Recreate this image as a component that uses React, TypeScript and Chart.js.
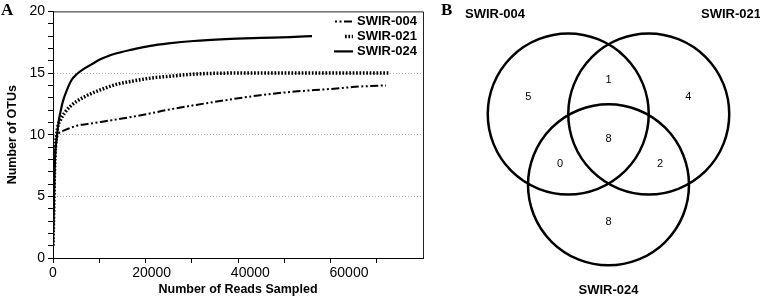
import React, { useEffect, useRef } from "react";
import { Chart, registerables } from "chart.js";

Chart.register(...registerables);

// ---------- Panel A data (rarefaction curves) ----------
const seriesNames = ["SWIR-004", "SWIR-021", "SWIR-024"];

const reads004 = [0, 100, 200, 300, 400, 600, 800, 1000, 2000, 3500, 5000, 7500, 10000, 13000, 16000, 20000, 23000, 28000, 35000, 42000, 49000, 56000, 62000, 67500];
const otus004 = [1, 3, 5, 6.8, 8, 9.2, 9.7, 10, 10.3, 10.55, 10.75, 10.9, 11.05, 11.25, 11.45, 11.75, 12.0, 12.35, 12.8, 13.2, 13.5, 13.7, 13.9, 14];

const reads021 = [0, 100, 200, 300, 500, 800, 1000, 1500, 2400, 3500, 4800, 6500, 8100, 10000, 13000, 15500, 18300, 21000, 24000, 28000, 32000, 38000, 50000, 68000];
const otus021 = [1, 3, 5, 7, 9, 10.2, 10.7, 11.2, 11.8, 12.3, 12.7, 13.1, 13.4, 13.7, 14.1, 14.3, 14.5, 14.65, 14.75, 14.9, 14.97, 15, 15, 15];

const reads024 = [0, 100, 200, 300, 500, 800, 1200, 1600, 2000, 2800, 3700, 4800, 6100, 7800, 9500, 12900, 16000, 19700, 23400, 28500, 35000, 42000, 48000, 52500];
const otus024 = [1, 3, 5, 7, 8.8, 9.9, 11.2, 12, 12.7, 13.6, 14.4, 14.9, 15.3, 15.7, 16.1, 16.6, 16.9, 17.2, 17.4, 17.6, 17.75, 17.85, 17.92, 18];

const xTickLabels = [0, 20000, 40000, 60000];
const yTickLabels = [0, 5, 10, 15, 20];
const xGridValues = [20000, 40000, 60000];
const yGridValues = [5, 10, 15];

// ---------- Panel B data (Venn diagram) ----------
const vennSets = ["SWIR-004", "SWIR-021", "SWIR-024"];
const vennCenterX = [-0.5, 0.5, 0];
const vennCenterY = [0, 0, -0.88];
const vennRadius = [1, 1, 1];
const setLabelX = [-1.41, 1.522, 0];
const setLabelY = [1.242, 1.242, -2.186];
const regionCounts = [5, 1, 4, 8, 0, 2, 8];
const regionX = [-0.996, 0, 0.991, 0, -0.602, 0.64, 0];
const regionY = [0.215, 0.422, 0.215, -0.314, -0.621, -0.621, -1.338];

const SANS = "'Liberation Sans', Arial, Helvetica, sans-serif";
const SERIF = "'Liberation Serif', 'Times New Roman', serif";

const dashes = [[8, 2.5, 2, 2.5, 2, 2.5], [1.7, 1.7], []];
const widths = [2, 3.5, 2.2];

const framePlugin = {
  id: "frame",
  afterDatasetsDraw(chart: any) {
    const { ctx, chartArea: a } = chart;
    ctx.save();
    ctx.strokeStyle = "#222";
    ctx.lineWidth = 1;
    ctx.beginPath();
    ctx.moveTo(a.left, a.top + 0.5);
    ctx.lineTo(a.right + 0.5, a.top + 0.5);
    ctx.lineTo(a.right + 0.5, a.bottom);
    ctx.stroke();
    ctx.restore();
  },
};

// x tick labels drawn through the x scale (0, 20000, 40000, 60000)
const xLabelPlugin = {
  id: "xLabels",
  afterDraw(chart: any) {
    const { ctx, chartArea: a, scales } = chart;
    ctx.save();
    ctx.fillStyle = "#000";
    ctx.font = `14px ${SANS}`;
    ctx.textAlign = "center";
    ctx.textBaseline = "top";
    xTickLabels.forEach((v) => {
      ctx.fillText(String(v), scales.x.getPixelForValue(v), a.bottom + 8);
    });
    ctx.restore();
  },
};

const legendPlugin = {
  id: "insideLegend",
  afterDraw(chart: any) {
    const { ctx, chartArea: a } = chart;
    const sampleLen = [18, 8, 19];
    const sampleOffset = [10.5, 0, 0];
    ctx.save();
    chart.data.datasets.forEach((ds: any, i: number) => {
      const y = a.top + 10 + i * 15;
      const xEnd = a.right - 70;
      ctx.strokeStyle = "#000";
      ctx.lineWidth = ds.borderWidth;
      ctx.setLineDash(ds.borderDash || []);
      ctx.lineDashOffset = sampleOffset[i];
      ctx.beginPath();
      ctx.moveTo(xEnd - sampleLen[i], y);
      ctx.lineTo(xEnd, y);
      ctx.stroke();
      ctx.setLineDash([]);
      ctx.fillStyle = "#000";
      ctx.font = `bold 13px ${SANS}`;
      ctx.textAlign = "left";
      ctx.textBaseline = "middle";
      ctx.fillText(ds.label, a.right - 66, y + 0.5);
    });
    ctx.font = `bold 17px ${SERIF}`;
    ctx.textBaseline = "alphabetic";
    ctx.fillText("A", 1, 15);
    ctx.restore();
  },
};

const vennLabelPlugin = {
  id: "vennLabels",
  afterDatasetsDraw(chart: any) {
    const { ctx, scales } = chart;
    const sx = scales.x;
    const sy = scales.y;
    ctx.save();
    ctx.fillStyle = "#000";
    ctx.textAlign = "center";
    ctx.textBaseline = "middle";
    ctx.font = `11px ${SANS}`;
    regionCounts.forEach((c, i) => {
      ctx.fillText(String(c), sx.getPixelForValue(regionX[i]), sy.getPixelForValue(regionY[i]));
    });
    ctx.font = `bold 13px ${SANS}`;
    vennSets.forEach((s, i) => {
      ctx.fillText(s, sx.getPixelForValue(setLabelX[i]), sy.getPixelForValue(setLabelY[i]));
    });
    ctx.textAlign = "left";
    ctx.textBaseline = "alphabetic";
    ctx.font = `bold 17px ${SERIF}`;
    ctx.fillText("B", 11, 15);
    ctx.restore();
  },
};

function toPoints(xs: number[], ys: number[]) {
  return xs.map((x, i) => ({ x, y: ys[i] }));
}

export default function App() {
  const refA = useRef<HTMLCanvasElement>(null);
  const refB = useRef<HTMLCanvasElement>(null);

  useEffect(() => {
    const pairs = [
      [reads004, otus004],
      [reads021, otus021],
      [reads024, otus024],
    ];
    const chartA = new Chart(refA.current as HTMLCanvasElement, {
      type: "line",
      data: {
        datasets: pairs.map((p, i) => ({
          label: seriesNames[i],
          data: toPoints(p[0], p[1]),
          borderColor: "#000",
          borderWidth: widths[i],
          borderDash: dashes[i],
          pointRadius: 0,
          fill: false,
          cubicInterpolationMode: "monotone",
        })),
      },
      options: {
        animation: false,
        responsive: false,
        maintainAspectRatio: false,
        events: [],
        layout: { padding: { left: 0, top: 10, right: 9, bottom: 0 } },
        plugins: { legend: { display: false }, tooltip: { enabled: false } },
        scales: {
          x: {
            type: "linear",
            min: 0,
            max: 75000,
            ticks: {
              stepSize: 10000,
              autoSkip: false,
              maxRotation: 0,
              padding: 3,
              color: "rgba(0,0,0,0)",
              font: { family: SANS, size: 14 },
              callback: () => "",
            },
            grid: {
              color: (c: any) => (c.tick && xGridValues.includes(c.tick.value) ? "#aaa" : "rgba(0,0,0,0)"),
              tickColor: (c: any) => (c.tick && c.tick.value <= 70000 ? "#000" : "rgba(0,0,0,0)"),
              tickLength: 5,
              lineWidth: 1,
            },
            border: { color: "#000", width: 1, dash: [1, 2] },
            title: {
              display: true,
              text: "Number of Reads Sampled",
              color: "#000",
              font: { family: SANS, size: 12.5, weight: "bold", lineHeight: 1.2 },
              padding: { top: 0, bottom: 1.5 },
            },
            afterFit: (s: any) => {
              s.height = 41;
            },
          },
          y: {
            type: "linear",
            min: 0,
            max: 20,
            ticks: {
              stepSize: 1,
              autoSkip: false,
              padding: 3,
              color: "#000",
              font: { family: SANS, size: 14 },
              callback: (v: any) => (yTickLabels.includes(v) ? String(v) : ""),
            },
            grid: {
              color: (c: any) => (c.tick && yGridValues.includes(c.tick.value) ? "#aaa" : "rgba(0,0,0,0)"),
              tickColor: "#000",
              tickLength: 5,
              lineWidth: 1,
            },
            border: { color: "#000", width: 1, dash: [1, 2] },
            title: {
              display: true,
              text: "Number of OTUs",
              color: "#000",
              font: { family: SANS, size: 12.5, weight: "bold", lineHeight: 1.2 },
              padding: { top: 5, bottom: 0 },
            },
            afterFit: (s: any) => {
              s.width = 53;
            },
          },
        },
      } as any,
      plugins: [framePlugin, xLabelPlugin, legendPlugin],
    });

    const chartB = new Chart(refB.current as HTMLCanvasElement, {
      type: "scatter",
      data: {
        datasets: [
          {
            label: "Venn",
            data: toPoints(vennCenterX, vennCenterY),
            pointRadius: (c: any) => {
              const s = c.chart.scales.x;
              const r = vennRadius[c.dataIndex] ?? 1;
              return Math.abs(s.getPixelForValue(r) - s.getPixelForValue(0));
            },
            pointBorderWidth: 2.5,
            pointBorderColor: "#000",
            pointBackgroundColor: "rgba(0,0,0,0)",
            clip: false,
          } as any,
        ],
      },
      options: {
        animation: false,
        responsive: false,
        maintainAspectRatio: false,
        events: [],
        layout: { padding: 0 },
        plugins: { legend: { display: false }, tooltip: { enabled: false } },
        scales: {
          x: { type: "linear", min: -2.2174, max: 1.882, display: false },
          y: { type: "linear", min: -2.2981, max: 1.4161, display: false },
        },
      } as any,
      plugins: [vennLabelPlugin],
    });

    return () => {
      chartA.destroy();
      chartB.destroy();
    };
  }, []);

  return (
    <div style={{ position: "absolute", left: 0, top: 0, width: 760, height: 299, background: "#fff" }}>
      <canvas ref={refA} width={432} height={299} style={{ position: "absolute", left: 0, top: 0 }} />
      <canvas ref={refB} width={330} height={299} style={{ position: "absolute", left: 430, top: 0 }} />
    </div>
  );
}
